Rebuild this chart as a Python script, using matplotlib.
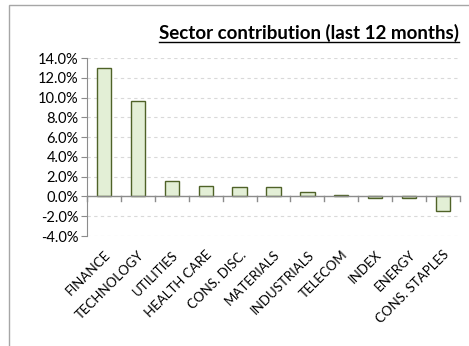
import numpy as np
import matplotlib.pyplot as plt
from matplotlib.patches import Rectangle
from matplotlib.ticker import FuncFormatter

plt.rcParams['font.family'] = ['Lato', 'DejaVu Sans']

sectors = ['FINANCE', 'TECHNOLOGY', 'UTILITIES', 'HEALTH CARE', 'CONS. DISC.',
           'MATERIALS', 'INDUSTRIALS', 'TELECOM', 'INDEX', 'ENERGY', 'CONS. STAPLES']
contribution = [13.0, 9.7, 1.6, 1.1, 1.0, 1.0, 0.5, 0.1, -0.2, -0.2, -1.5]

fig = plt.figure(figsize=(4.69, 3.46), dpi=100)
# outer chart border
fig.patches.append(Rectangle((9 / 469, -0.1), 1.0, 1 - 5 / 346 + 0.1,
                             transform=fig.transFigure, fill=False,
                             edgecolor='#a6a6a6', linewidth=1.0))

ax = fig.add_axes([87 / 469, 1 - 236 / 346, (460 - 87) / 469, (236 - 58) / 346])
x = np.arange(len(sectors))
ax.bar(x, contribution, width=0.42, color='#e3efd6', edgecolor='#4f6228',
       linewidth=1.0, zorder=3)

ax.set_xlim(-0.5, len(sectors) - 0.5)
ax.set_ylim(-4, 14)
ax.set_yticks(np.arange(-4, 15, 2))
ax.yaxis.set_major_formatter(FuncFormatter(lambda v, p: f'{v:.1f}%'))
ax.grid(axis='y', color='#d9d9d9', linestyle=(0, (3, 3)), linewidth=0.8, zorder=0)

for s in ['top', 'right', 'bottom']:
    ax.spines[s].set_visible(False)
ax.spines['left'].set_color('#8c8c8c')
ax.axhline(0, color='#8c8c8c', linewidth=1.0, zorder=4)

# tick marks below the zero line at category boundaries
for b in np.arange(-0.5, len(sectors), 1.0):
    ax.plot([b, b], [0, -0.5], color='#8c8c8c', linewidth=1.0, zorder=4, clip_on=False)

ax.set_xticks(x)
ax.set_xticklabels(sectors, rotation=45, ha='right', rotation_mode='anchor',
                   fontsize=9.5)
ax.tick_params(axis='x', length=0, pad=9)
ax.tick_params(axis='y', length=4, color='#8c8c8c', labelsize=10.5, pad=2)

title = fig.text(459 / 469, 1 - 33 / 346, 'Sector contribution (last 12 months)',
                 ha='right', va='center', fontsize=13.5, fontweight='bold')
fig.canvas.draw()
bb = title.get_window_extent().transformed(fig.transFigure.inverted())
fig.add_artist(plt.Line2D([bb.x0, bb.x1], [1 - 42 / 346, 1 - 42 / 346],
                          color='black', linewidth=1.0, transform=fig.transFigure))

fig.savefig('out.png', dpi=100)
